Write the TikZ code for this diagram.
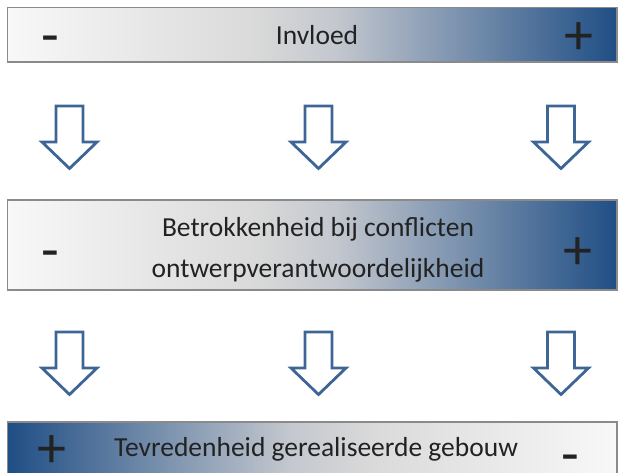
\documentclass[tikz,border=0pt]{standalone}
\usepackage{fontspec}
\setmainfont{Carlito}
\definecolor{lowend}{HTML}{F8F8F8}
\definecolor{midgray}{HTML}{DADADA}
\definecolor{midblue}{HTML}{C3C7CE}
\definecolor{highend}{HTML}{1F4E85}
\definecolor{arrowblue}{HTML}{3D6596}
\definecolor{boxline}{HTML}{8A8A8A}
\definecolor{ink}{HTML}{222222}
% horizontal fades: light on the minus side, dark blue on the plus side
\pgfdeclarehorizontalshading{lowhigh}{100bp}{color(0bp)=(lowend); color(25bp)=(lowend); color(45bp)=(midgray); color(52bp)=(midblue); color(75bp)=(highend); color(100bp)=(highend)}
\pgfdeclarehorizontalshading{highlow}{100bp}{color(0bp)=(highend); color(25bp)=(highend); color(48bp)=(midblue); color(55bp)=(midgray); color(75bp)=(lowend); color(100bp)=(lowend)}
\tikzset{
  scalebar/.style={draw=boxline, line width=1.3pt},
  label/.style={inner sep=0pt, text=ink, font=\fontsize{27.5}{41}\selectfont, align=center},
  sign/.style={inner sep=0pt, text=ink, font=\fontsize{58}{58}\selectfont},
  downarrow/.pic={
    \draw[draw=arrowblue, fill=white, line width=2.8pt, line join=miter]
      (-13.5,0) -- (13.5,0) -- (13.5,36) -- (27.5,36) -- (0,62.5)
      -- (-27.5,36) -- (-13.5,36) -- cycle;
  }
}
\begin{document}
\begin{tikzpicture}[x=1pt, y=-1pt]
\useasboundingbox (0,0) rectangle (618,472);
\clip (0,0) rectangle (618,472);

% influence scale
\shade[shading=lowhigh, scalebar] (7.5,7.5) rectangle (617,62);
\node[label, anchor=base] (invloed) at (317,44) {Invloed};
\node[sign, anchor=base] (inMin) at (50.7,54) {-};
\node[sign, anchor=base] (inPlus) at (578.7,54) {+};

% first row of arrows
\pic at (69.5,106) {downarrow};
\pic at (318.5,106) {downarrow};
\pic at (561,106) {downarrow};

% involvement scale
\shade[shading=lowhigh, scalebar] (7.5,200) rectangle (617,290);
\node[label, anchor=base] (betr1) at (318,236) {Betrokkenheid bij conflicten};
\node[label, anchor=base] (betr2) at (318,277) {ontwerpverantwoordelijkheid};
\node[sign, anchor=base] (beMin) at (50,269) {-};
\node[sign, anchor=base] (bePlus) at (578,269) {+};

% second row of arrows
\pic at (69.5,332) {downarrow};
\pic at (318.5,332) {downarrow};
\pic at (561,332) {downarrow};

% satisfaction scale
\shade[shading=highlow, scalebar] (7.5,422) rectangle (617,490);
\node[label, anchor=base] (tevr) at (316,456) {Tevredenheid gerealiseerde gebouw};
\node[sign, anchor=base] (tePlus) at (52,467) {+};
\node[sign, anchor=base] (teMin) at (570,473) {-};
\end{tikzpicture}
\end{document}
